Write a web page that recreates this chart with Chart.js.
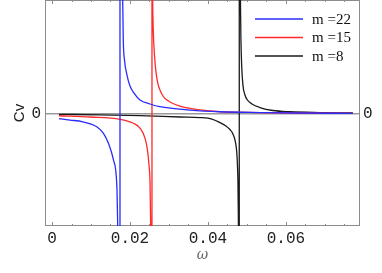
<!DOCTYPE html>
<html>
<head>
<meta charset="utf-8">
<script src="https://cdn.jsdelivr.net/npm/chart.js@4/dist/chart.umd.min.js"></script>
<style>
  html, body { margin: 0; padding: 0; background: #fff; }
  canvas { display: block; }
</style>
</head>
<body>
<canvas id="grafik" width="382" height="273"></canvas>
<script>
// nilai (sumbu Cv tanpa satuan, 0 di tengah)
const namaSeri = ['m =22', 'm =15', 'm =8'];
const labelTickX = [0, 0.02, 0.04, 0.06];

const omega22 = [0.0018, 0.0046, 0.0079, 0.01146, 0.01315, 0.01444, 0.01531, 0.01577, 0.01633, 0.01667, 0.01685,
  0.01705, 0.01743, 0.01744, 0.0179, 0.01813, 0.01828, 0.01859, 0.01923, 0.02, 0.02103, 0.02256, 0.02513,
  0.02769, 0.03538, 0.04308, 0.05333, 0.06359, 0.07718];
const cv22 = [-0.041, -0.053, -0.068, -0.111, -0.167, -0.254, -0.342, -0.404, -0.491, -0.667, -0.982,
  -3, -80, 80, 3, 1.0, 0.649, 0.474, 0.342, 0.246, 0.184, 0.123, 0.088,
  0.064, 0.035, 0.02, 0.013, 0.009, 0.006];

const omega15 = [0.0018, 0.00974, 0.01744, 0.02077, 0.02256, 0.02385, 0.02449, 0.02487, 0.02513, 0.02531,
  0.02545, 0.02563, 0.02565, 0.02575, 0.02582, 0.02597, 0.02628, 0.02667, 0.02718, 0.02769, 0.02846,
  0.02949, 0.03103, 0.03282, 0.03538, 0.03974, 0.04308, 0.05333, 0.06359, 0.07718];
const cv15 = [-0.015, -0.026, -0.046, -0.079, -0.123, -0.211, -0.316, -0.447, -0.579, -0.982,
  -3, -80, 80, 3, 1.0, 0.737, 0.518, 0.368, 0.263, 0.211, 0.158,
  0.123, 0.092, 0.07, 0.05, 0.029, 0.02, 0.013, 0.009, 0.006];

const omega8 = [0.0018, 0.01231, 0.02256, 0.03282, 0.03795, 0.04103, 0.04308, 0.04462, 0.04564, 0.04641,
  0.04705, 0.04744, 0.04769, 0.04782, 0.0479, 0.04802, 0.04804, 0.04822, 0.04833, 0.04846, 0.04864,
  0.04897, 0.04949, 0.05013, 0.05128, 0.05333, 0.05667, 0.06103, 0.06872, 0.07718];
const cv8 = [-0.003, -0.007, -0.014, -0.026, -0.031, -0.044, -0.075, -0.105, -0.136, -0.175,
  -0.246, -0.36, -0.579, -0.982, -3, -80, 80, 3, 1.0, 0.649, 0.43,
  0.254, 0.167, 0.123, 0.088, 0.057, 0.031, 0.02, 0.013, 0.009];

function gabung(xs, ys) {
  return xs.map((x, i) => ({ x: x, y: ys[i] }));
}

function seri(label, xs, ys, warna) {
  return {
    label: label,
    data: gabung(xs, ys),
    borderColor: warna,
    borderWidth: 1.3,
    pointRadius: 0,
    fill: false,
    cubicInterpolationMode: 'monotone'
  };
}

function tanpaPadding(scale) {
  scale.paddingTop = 0;
  scale.paddingBottom = 0;
  scale.paddingLeft = 0;
  scale.paddingRight = 0;
}

// bingkai + tick ke dalam ala Mathematica
const bingkai = {
  id: 'bingkai',
  beforeDatasetsDraw(chart) {
    const { ctx, chartArea: a, scales } = chart;
    ctx.save();
    ctx.strokeStyle = '#8c8c8c';
    ctx.lineWidth = 1;
    ctx.strokeRect(a.left + 0.5, a.top + 0.5, a.right - a.left - 1, a.bottom - a.top - 1);
    scales.x.ticks.forEach(t => {
      const px = Math.round(scales.x.getPixelForValue(t.value)) + 0.5;
      const pj = labelTickX.some(v => Math.abs(v - t.value) < 1e-6) ? 4 : 2;
      ctx.beginPath();
      ctx.moveTo(px, a.bottom);
      ctx.lineTo(px, a.bottom - pj);
      ctx.moveTo(px, a.top);
      ctx.lineTo(px, a.top + pj);
      ctx.stroke();
    });
    ctx.restore();
  }
};

const legenda = {
  id: 'legenda',
  afterDraw(chart) {
    const { ctx, chartArea: a } = chart;
    ctx.save();
    chart.data.datasets.forEach((ds, i) => {
      const y = a.top + 19 + i * 18.5;
      ctx.strokeStyle = ds.borderColor;
      ctx.lineWidth = 1.5;
      ctx.beginPath();
      ctx.moveTo(a.right - 105, y);
      ctx.lineTo(a.right - 57, y);
      ctx.stroke();
      ctx.fillStyle = '#111';
      ctx.font = '15px "Liberation Serif"';
      ctx.textBaseline = 'middle';
      ctx.fillText(ds.label, a.right - 48, y + 1);
    });
    ctx.restore();
  }
};

const fontTick = { family: '"Liberation Mono"', size: 16 };

const ctx = document.getElementById('grafik').getContext('2d');

const chart = new Chart(ctx, {
  type: 'line',
  data: {
    datasets: [
      seri(namaSeri[0], omega22, cv22, '#2b2bff'),
      seri(namaSeri[1], omega15, cv15, '#ff2a2a'),
      seri(namaSeri[2], omega8, cv8, '#1a1a1a')
    ]
  },
  options: {
    responsive: false,
    animation: false,
    layout: { padding: { top: 0 } },
    plugins: { legend: { display: false }, tooltip: { enabled: false } },
    scales: {
      x: {
        type: 'linear',
        min: -0.0018,
        max: 0.079,
        grid: { display: false, drawTicks: false },
        border: { display: false },
        afterBuildTicks(scale) {
          const t = [];
          for (let i = 0; i <= 15; i++) t.push({ value: Math.round(i * 5) / 1000 });
          scale.ticks = t;
        },
        afterFit(scale) { scale.height = 47; tanpaPadding(scale); },
        ticks: {
          autoSkip: false,
          maxRotation: 0,
          padding: 3,
          color: '#222',
          font: fontTick,
          callback: v => {
            if (!labelTickX.some(l => Math.abs(l - v) < 1e-6)) return '';
            return v === 0 ? '0' : v.toFixed(2);
          }
        },
        title: {
          display: true,
          text: 'ω',
          color: '#666',
          font: { family: '"DejaVu Serif"', size: 14, style: 'italic' },
          padding: { top: 0, bottom: 9 }
        }
      },
      y: {
        position: 'left',
        min: -0.982,
        max: 1,
        grid: { color: '#9a9a9a', lineWidth: 1.5, drawTicks: false },
        border: { display: false },
        afterBuildTicks(scale) { scale.ticks = [{ value: 0 }]; },
        afterFit(scale) { scale.width = 45; tanpaPadding(scale); },
        ticks: { padding: 4, color: '#222', font: fontTick, callback: () => '0' },
        title: {
          display: true,
          text: 'Cv',
          color: '#222',
          font: { family: '"Liberation Sans"', size: 15 },
          padding: { top: 11, bottom: 0 }
        }
      },
      y2: {
        position: 'right',
        min: -0.982,
        max: 1,
        grid: { display: false, drawTicks: false },
        border: { display: false },
        afterBuildTicks(scale) { scale.ticks = [{ value: 0 }]; },
        afterFit(scale) { scale.width = 22; tanpaPadding(scale); },
        ticks: { padding: 3, color: '#222', font: fontTick, callback: () => '0' }
      }
    }
  },
  plugins: [bingkai, legenda]
});
</script>
</body>
</html>
